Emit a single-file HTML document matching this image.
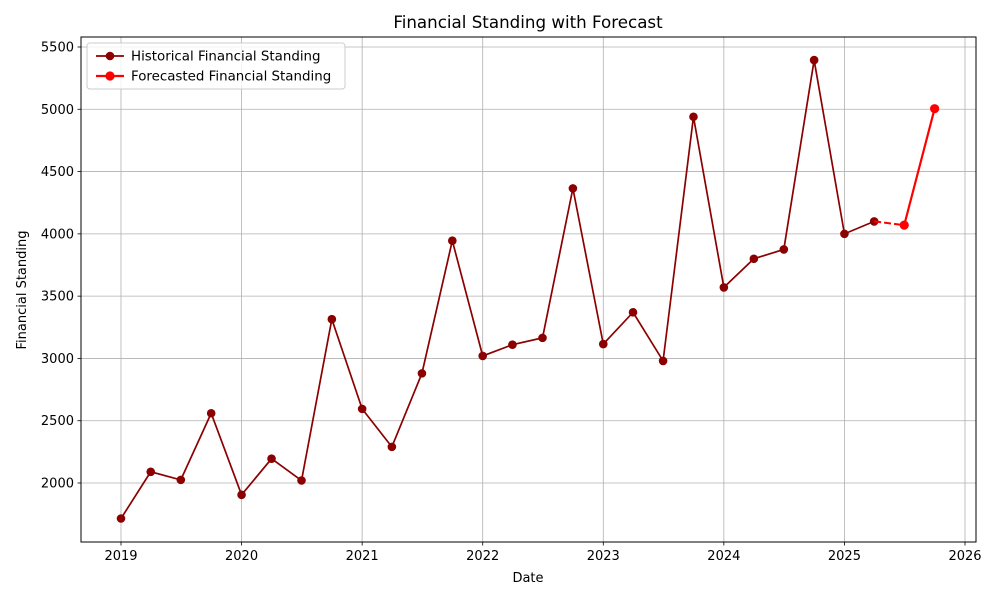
<!DOCTYPE html>
<html><head><meta charset="utf-8"><style>
body{margin:0;background:#fff;font-family:"Liberation Sans","DejaVu Sans",sans-serif}
text{font-family:"DejaVu Sans","Liberation Sans",sans-serif}
</style></head><body>
<svg id="chart" width="1000" height="600" xmlns="http://www.w3.org/2000/svg"></svg>
<script>
const histDates=["2019-01-01","2019-04-01","2019-07-01","2019-10-01","2020-01-01","2020-04-01","2020-07-01","2020-10-01","2021-01-01","2021-04-01","2021-07-01","2021-10-01","2022-01-01","2022-04-01","2022-07-01","2022-10-01","2023-01-01","2023-04-01","2023-07-01","2023-10-01","2024-01-01","2024-04-01","2024-07-01","2024-10-01","2025-01-01","2025-04-01"];
const histValues=[1715,2090,2025,2560,1905,2195,2020,3315,2595,2290,2880,3945,3020,3110,3165,4365,3115,3370,2980,4940,3570,3800,3875,5395,4000,4100];
const fcDates=["2025-07-01","2025-10-01"];
const fcValues=[4070,5005];
const yTicks=[2000,2500,3000,3500,4000,4500,5000,5500];
const xTicks=[2019,2020,2021,2022,2023,2024,2025,2026];

const L=81,R=976,T=37,B=542;
const x0=121,xPerYear=(965-121)/7;
const yPx2000=483,yPer=(483-47)/3500;
function toYear(d){const t=new Date(d+"T00:00:00Z");const y=t.getUTCFullYear();const s=Date.UTC(y,0,1),e=Date.UTC(y+1,0,1);return y+(t-s)/(e-s);}
function X(yr){return x0+(yr-2019)*xPerYear;}
function Y(v){return yPx2000-(v-2000)*yPer;}
const svg=document.getElementById('chart');
const NS="http://www.w3.org/2000/svg";
function mk(tag,attrs,parent){const e=document.createElementNS(NS,tag);for(const k in attrs)e.setAttribute(k,attrs[k]);(parent||svg).appendChild(e);return e;}

yTicks.forEach(v=>{const l=mk('line',{x1:L,x2:R,y1:Y(v),y2:Y(v),stroke:'#b0b0b0','stroke-width':0.8});


const tk=mk('line',{x1:L-3.5,x2:L,y1:Y(v),y2:Y(v),stroke:'#000','stroke-width':0.8});


const t=mk('text',{x:L-7,y:Y(v)+4.5,'text-anchor':'end','font-size':13});t.textContent=v;

});
xTicks.forEach(v=>{const l=mk('line',{x1:X(v),x2:X(v),y1:T,y2:B,stroke:'#b0b0b0','stroke-width':0.8});


const tk=mk('line',{x1:X(v),x2:X(v),y1:B,y2:B+3.5,stroke:'#000','stroke-width':0.8});


const t=mk('text',{x:X(v),y:B+18,'text-anchor':'middle','font-size':13});t.textContent=v;

});

const hp=histDates.map((d,i)=>[X(toYear(d)),Y(histValues[i])]);
const hl=mk('polyline',{points:hp.map(p=>p.join(',')).join(' '),fill:'none',stroke:'#8b0000','stroke-width':1.7});


hp.forEach(p=>{const c=mk('circle',{cx:p[0],cy:p[1],r:4.3,fill:'#8b0000'});

});
const last=hp[hp.length-1];
const fp=fcDates.map((d,i)=>[X(toYear(d)),Y(fcValues[i])]);
const dl=mk('line',{x1:last[0],y1:last[1],x2:fp[0][0],y2:fp[0][1],stroke:'#ff0000','stroke-width':2,'stroke-dasharray':'7,3'});


const fl=mk('polyline',{points:fp.map(p=>p.join(',')).join(' '),fill:'none',stroke:'#ff0000','stroke-width':2.2});


fp.forEach(p=>{const c=mk('circle',{cx:p[0],cy:p[1],r:4.6,fill:'#ff0000'});

});

const fr=mk('rect',{x:L,y:T,width:R-L,height:B-T,fill:'none',stroke:'#000','stroke-width':1});



const tt=mk('text',{x:528,y:28,'text-anchor':'middle','font-size':16.7});tt.textContent='Financial Standing with Forecast';


const xt=mk('text',{x:528,y:582,'text-anchor':'middle','font-size':13});xt.textContent='Date';


const yt=mk('text',{x:26,y:290,'text-anchor':'middle','font-size':13,transform:'rotate(-90 26 290)'});yt.textContent='Financial Standing';



const lg=mk('g',{});


mk('rect',{x:87,y:43,width:258,height:46,rx:3,fill:'#fff','fill-opacity':0.8,stroke:'#ccc'},lg);
const e1=mk('g',{},lg);


mk('line',{x1:96,x2:124,y1:56,y2:56,stroke:'#8b0000','stroke-width':1.7},e1);
mk('circle',{cx:110,cy:56,r:4.3,fill:'#8b0000'},e1);
const t1=mk('text',{x:131,y:60.5,'font-size':13.4},e1);t1.textContent='Historical Financial Standing';
const e2=mk('g',{},lg);


mk('line',{x1:96,x2:124,y1:76,y2:76,stroke:'#ff0000','stroke-width':2.2},e2);
mk('circle',{cx:110,cy:76,r:4.6,fill:'#ff0000'},e2);
const t2=mk('text',{x:131,y:80.5,'font-size':13.4},e2);t2.textContent='Forecasted Financial Standing';
</script>
</body></html>
